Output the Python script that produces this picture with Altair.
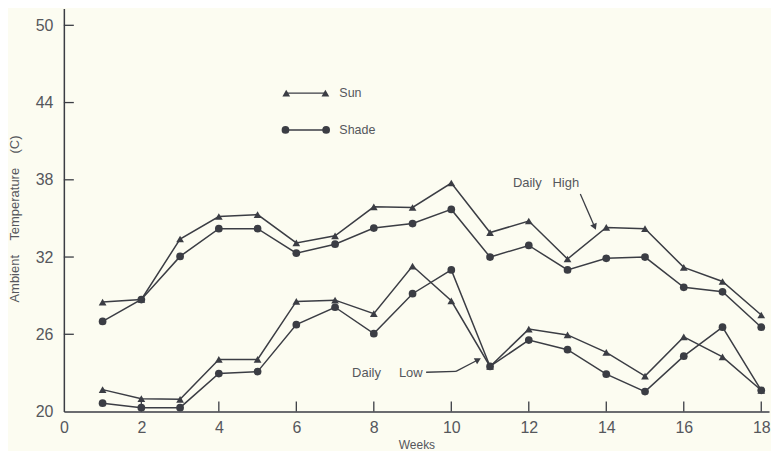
import altair as alt
import pandas as pd

weeks = list(range(1, 19))
sun_high = [28.5, 28.7, 33.4, 35.15, 35.3, 33.1, 33.65, 35.9, 35.85, 37.75, 33.9, 34.8, 31.85, 34.3, 34.2, 31.2, 30.1, 27.5]
shade_high = [27.0, 28.7, 32.05, 34.2, 34.2, 32.3, 33.0, 34.25, 34.6, 35.7, 32.0, 32.9, 31.0, 31.9, 32.0, 29.65, 29.3, 26.55]
sun_low = [21.7, 21.0, 20.95, 24.05, 24.05, 28.55, 28.65, 27.6, 31.3, 28.6, 23.5, 26.4, 25.95, 24.6, 22.75, 25.8, 24.25, 21.65]
shade_low = [20.65, 20.3, 20.3, 22.95, 23.1, 26.75, 28.1, 26.05, 29.15, 31.0, 23.5, 25.55, 24.8, 22.9, 21.55, 24.3, 26.55, 21.65]

y_ticks = [20, 26, 32, 38, 44, 50]
x_ticks = [0, 2, 4, 6, 8, 10, 12, 14, 16, 18]

W, H = 707, 404
INK = "#3b3d44"
TXT = "#55575c"
FONT = "Liberation Sans"
BG = "#fcfcf1"
SP = "\u00a0"

rows = []
for name, exp, vals in [("Sun High", "Sun", sun_high), ("Shade High", "Shade", shade_high),
                        ("Sun Low", "Sun", sun_low), ("Shade Low", "Shade", shade_low)]:
    for w, v in zip(weeks, vals):
        rows.append({"week": w, "temp": v, "series": name, "exposure": exp})
df = pd.DataFrame(rows)

xs = alt.Scale(domain=[0, 18.2], nice=False, zero=False)
ys = alt.Scale(domain=[20, 51.3], nice=False, zero=False)

x_axis = alt.Axis(values=x_ticks, ticks=False, grid=False, domain=True, domainColor=INK,
                  domainWidth=1.5, labelFont=FONT, labelFontSize=16, labelColor=TXT,
                  labelPadding=8, labelFlush=False, title="Weeks", titleFont=FONT,
                  titleFontSize=12, titleFontWeight="normal", titleColor=TXT,
                  titleY=33, titleBaseline="middle")
y_axis = alt.Axis(values=y_ticks, ticks=False, grid=False, domain=True, domainColor=INK,
                  domainWidth=1.5, labelFont=FONT, labelFontSize=16, labelColor=TXT,
                  labelPadding=11, labelFlush=False,
                  title="Ambient" + SP * 4 + "Temperature" + SP * 4 + "(C)",
                  titleFont=FONT, titleFontSize=13, titleFontWeight="normal",
                  titleColor=TXT, titleAngle=270, titleX=-49, titleY=210.5,
                  titleBaseline="middle", titleAlign="center")

base = alt.Chart(df)
lines = base.mark_line(color=INK, strokeWidth=1.5).encode(
    x=alt.X("week:Q", scale=xs, axis=x_axis),
    y=alt.Y("temp:Q", scale=ys, axis=y_axis),
    detail="series:N",
)
points = base.mark_point(filled=True, opacity=1, color=INK, size=60).encode(
    x=alt.X("week:Q"),
    y=alt.Y("temp:Q"),
    shape=alt.Shape("exposure:N", scale=alt.Scale(domain=["Sun", "Shade"],
                                                  range=["triangle-up", "circle"]), legend=None),
)

ytk = alt.Chart(pd.DataFrame({"temp": y_ticks[1:]})).mark_rule(color=INK, strokeWidth=1.3).encode(
    y=alt.Y("temp:Q"), x=alt.value(0), x2=alt.value(10))
xtk = alt.Chart(pd.DataFrame({"week": x_ticks[1:]})).mark_rule(color=INK, strokeWidth=1.3).encode(
    x=alt.X("week:Q"), y=alt.value(H), y2=alt.value(H - 10))

one = pd.DataFrame({"k": [0]})

def seg(x1, y1, x2, y2):
    return alt.Chart(one).mark_rule(color=INK, strokeWidth=1.3).encode(
        x=alt.datum(x1), y=alt.datum(y1), x2=alt.datum(x2), y2=alt.datum(y2))

def sym(x, y, shape, size=60, angle=0):
    return alt.Chart(one).mark_point(filled=True, opacity=1, color=INK, shape=shape,
                                     size=size, angle=angle).encode(
        x=alt.datum(x), y=alt.datum(y))

def txt(x, y, s, size=13):
    return alt.Chart(one).mark_text(text=s, font=FONT, fontSize=size, color=TXT,
                                    align="left", baseline="middle").encode(
        x=alt.datum(x), y=alt.datum(y))

# legend / annotation anchors in data units
legend = [
    seg(5.74, 44.73, 6.75, 44.73), sym(5.74, 44.73, "triangle-up"), sym(6.75, 44.73, "triangle-up"),
    txt(7.11, 44.73, "Sun", 12.5),
    seg(5.72, 41.87, 6.77, 41.87), sym(5.72, 41.87, "circle"), sym(6.77, 41.87, "circle"),
    txt(7.11, 41.87, "Shade", 12.5),
]

annots = [
    txt(11.59, 37.76, "Daily" + SP * 3 + "High", 13),
    seg(13.33, 36.89, 13.69, 34.41), sym(13.69, 34.41, "triangle", 50, 157),
    txt(7.44, 23.0, "Daily" + SP * 5 + "Low", 13),
    seg(9.35, 23.05, 10.12, 23.12), seg(10.12, 23.12, 10.67, 23.98), sym(10.67, 23.98, "triangle", 50, 62),
]

chart = alt.layer(lines, points, ytk, xtk, *legend, *annots).properties(
    width=W, height=H,
    padding={"left": 1, "top": 0, "right": 0, "bottom": 0},
    background=BG,
).configure_view(stroke=None)

chart.save("out.html", embed_options={"renderer": "svg", "actions": False})
